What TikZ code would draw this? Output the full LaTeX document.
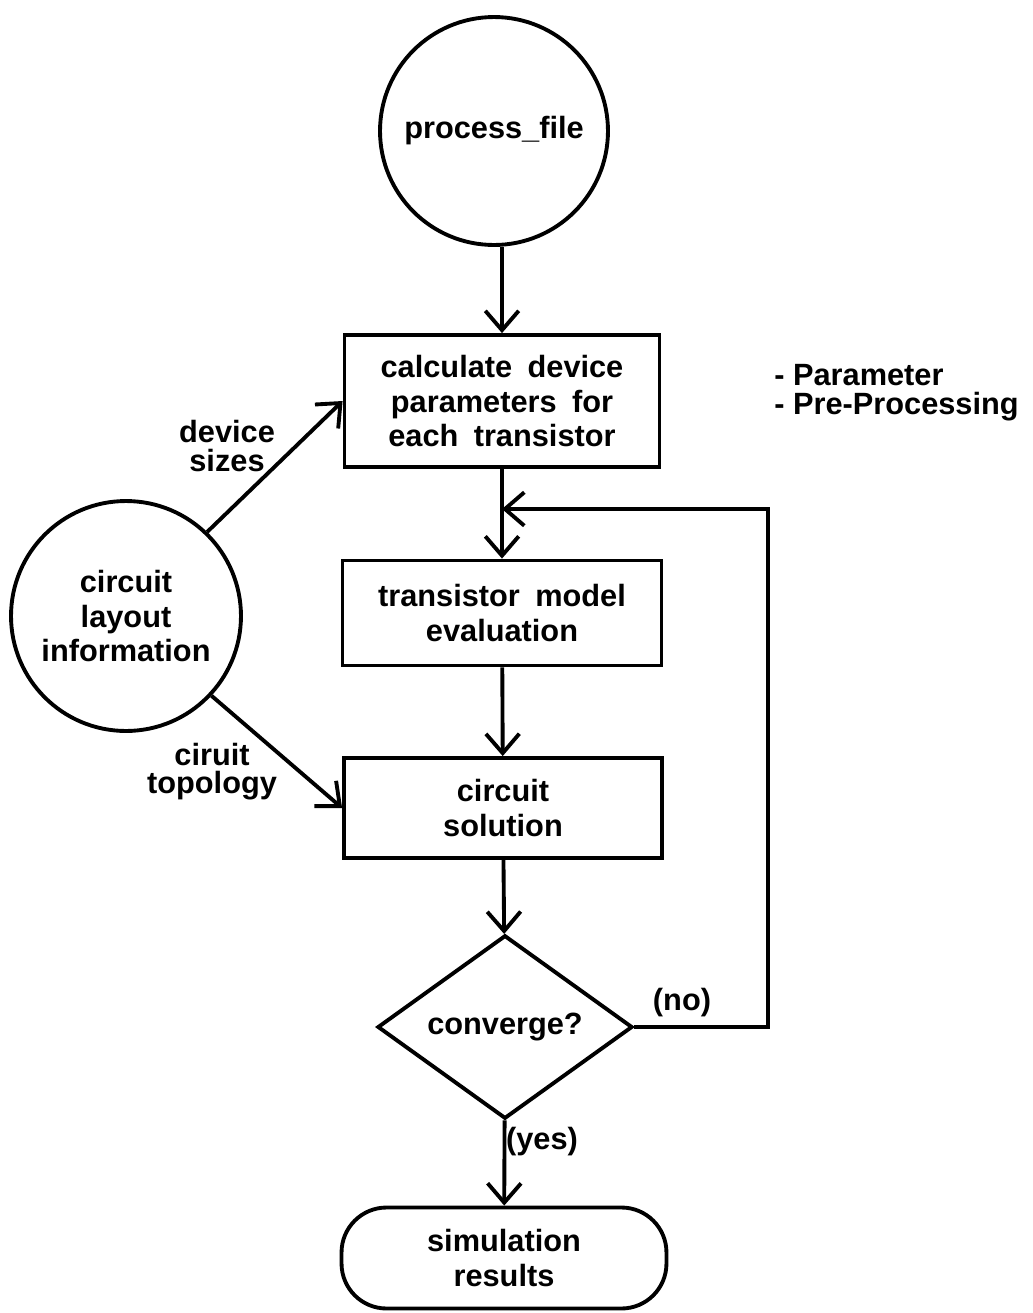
\documentclass[tikz,border=0pt]{standalone}
\usepackage{fontspec}
\setmainfont{Liberation Sans}
\usetikzlibrary{arrows.meta,shapes.geometric}
\begin{document}
\begin{tikzpicture}[x=0.02cm,y=-0.02cm,
  txt/.style={font=\fontsize{17.5}{19.5}\selectfont\bfseries, align=center, inner sep=0pt,
    execute at begin node={\spaceskip=0.5em\relax}},
  lbl/.style={font=\fontsize{17.5}{16}\selectfont\bfseries, align=center, inner sep=0pt},
  lw/.style={line width=2.2pt},
  box/.style={draw, lw, txt},
  flow/.style={lw, -{Straight Barb[length=11pt,width=19pt,line width=2.2pt]}}]
\useasboundingbox (0,0) rectangle (1033,1313);

\node[circle, draw, lw, txt, minimum size=4.56cm] (pf) at (494,131) {process\_file};
\node[box, minimum width=6.3cm, minimum height=2.64cm] (calc) at (502,401) {calculate device\\parameters for\\each transistor};
\node[box, minimum width=6.38cm, minimum height=2.1cm] (tme) at (502,613) {transistor model\\evaluation};
\node[box, minimum width=6.36cm, minimum height=2.0cm] (cs) at (503,808) {circuit\\solution};
\node[diamond, draw, lw, txt, minimum width=5.1cm, minimum height=3.3cm] (conv) at (505,1027) {converge?};
\node[draw, lw, txt, rounded corners=0.9cm, minimum width=6.5cm, minimum height=2.02cm] (sim) at (504,1258) {simulation\\results};
\node[circle, draw, lw, txt, minimum size=4.6cm] (cli) at (126,616) {circuit\\layout\\information};

\node[lbl] (ds) at (227,446) {device\\sizes};
\node[lbl] (ct) at (212,772) {ciruit\\topology};
\node[lbl, anchor=west, align=left, font=\fontsize{17.5}{16.5}\selectfont\bfseries] (note) at (774,393) {- Parameter\\- Pre-Processing};
\node[lbl] (no) at (682,1003) {(no)};
\node[lbl] (yes) at (542,1142) {(yes)};

\coordinate (join) at (502,509);
\coordinate (rt) at (768,509);

\draw[flow] (pf.south -| calc.north) -- (calc.north);
\draw[flow] (calc) -- (tme);
\draw[flow] (tme) -- (cs);
\draw[flow] (cs) -- (conv);
\draw[flow] (conv) -- (sim);
\draw[flow] (conv.east) -| (rt) -- (join);
\draw[flow] (cli.46) -- (calc.west);
\draw[flow] (cli.-43) -- (cs.west);
\end{tikzpicture}
\end{document}
